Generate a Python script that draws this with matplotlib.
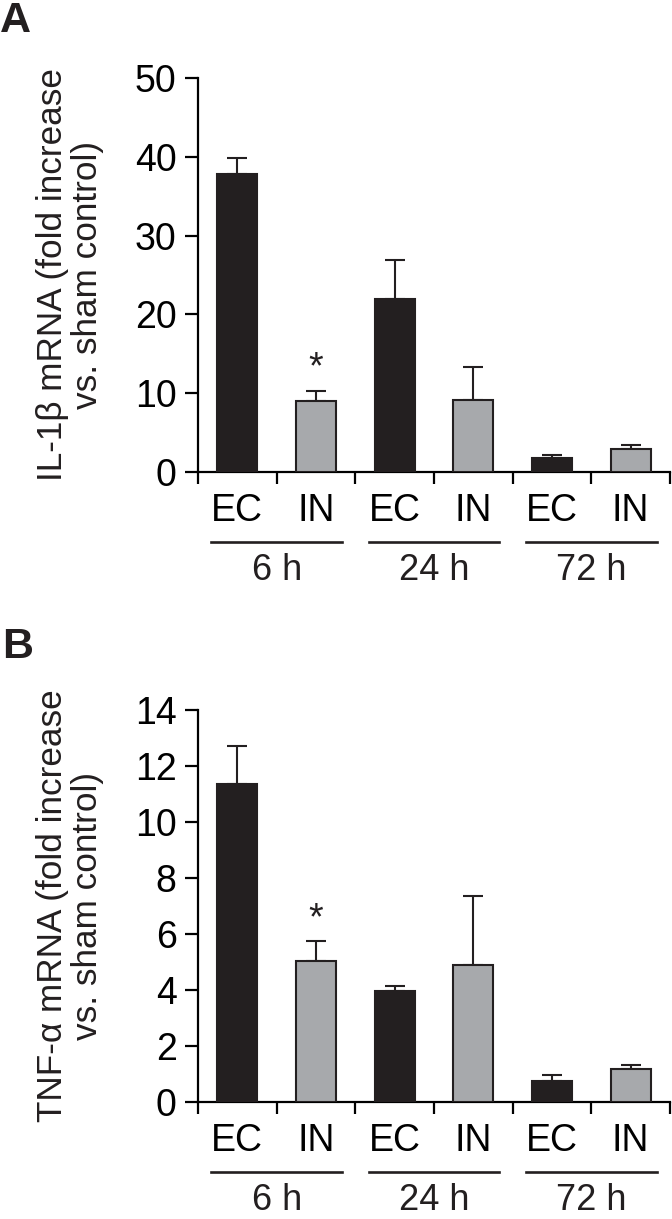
import numpy as np
import matplotlib
matplotlib.use("Agg")
import matplotlib.pyplot as plt
from matplotlib.transforms import ScaledTranslation

plt.rcParams['font.family'] = ['Liberation Sans', 'DejaVu Sans']
narrow = ['Liberation Sans Narrow', 'Liberation Sans', 'DejaVu Sans']

# data
groups = ['6 h', '24 h', '72 h']
conds = ['EC', 'IN', 'EC', 'IN', 'EC', 'IN']

il1b_mean = [37.8, 9.0, 21.9, 9.2, 1.8, 2.9]
il1b_err = [2.1, 1.3, 5.0, 4.1, 0.3, 0.55]

tnf_mean = [11.35, 5.03, 3.97, 4.89, 0.76, 1.18]
tnf_err = [1.38, 0.71, 0.17, 2.45, 0.22, 0.14]

sig_idx = [1]  # IN at 6 h

black = '#231f20'
grey = '#a7a9ac'
colors = [black, grey] * 3

W, H = 672, 1219
fig = plt.figure(figsize=(W / 100, H / 100), dpi=100)


def panel(rect, mean, err, ymax, ystep, ylabel, letter, letter_xy):
    ax = fig.add_axes(rect)
    x = np.arange(len(mean))
    ax.bar(x, mean, width=0.51, color=colors, edgecolor=black, linewidth=1.5, zorder=3)
    ax.errorbar(x, mean, yerr=[np.zeros(len(err)), err], fmt='none',
                ecolor=black, elinewidth=1.5, capsize=7.2, capthick=1.5, zorder=2)

    ax.set_xlim(-0.5, 5.5)
    ax.set_ylim(0, ymax)
    ax.set_yticks(np.arange(0, ymax + 0.1, ystep))
    ax.set_xticks(np.arange(-0.5, 6, 1))
    ax.set_xticklabels([])
    ax.set_xticks(x, minor=True)
    ax.set_xticklabels(conds, minor=True)

    for s in ['top', 'right']:
        ax.spines[s].set_visible(False)
    for s in ['left', 'bottom']:
        ax.spines[s].set_linewidth(1.6)
    ax.tick_params(axis='y', direction='out', length=9.4, width=1.6, labelsize=27, pad=6)
    ax.tick_params(axis='x', which='major', direction='out', length=8.6, width=1.6)
    ax.tick_params(axis='x', which='minor', length=0, labelsize=27, pad=15)
    for t in ax.get_yticklabels() + ax.get_xticklabels(minor=True):
        t.set_family(narrow)

    # group lines and labels under the conditions
    shift = ScaledTranslation(0, -70 / 100, fig.dpi_scale_trans)
    for g, name in enumerate(groups):
        c = 2 * g + 0.5
        ax.plot([c - 0.83, c + 0.83], [0, 0], color=black, lw=1.9,
                transform=ax.get_xaxis_transform() + shift, clip_on=False)
        ax.annotate(name, xy=(c, 0), xycoords=('data', 'axes fraction'),
                    xytext=(0, -98 * 0.72), textcoords='offset points',
                    ha='center', va='center', fontsize=26, color=black,
                    family=narrow)

    for i in sig_idx:
        ax.annotate('*', xy=(i, mean[i] + err[i]), xytext=(0, 3),
                    textcoords='offset points', ha='center', va='bottom',
                    fontsize=27, color=black, family=narrow)

    ax.set_ylabel(ylabel, fontsize=25.3, linespacing=1.05, color=black)
    ax.yaxis.set_label_coords(-0.2, 0.5)
    fig.text(letter_xy[0] / W, 1 - letter_xy[1] / H, letter, fontsize=31,
             fontweight='bold', ha='left', va='top', color=black, family=narrow)
    return ax


panel([198 / W, 1 - 472 / H, 472 / W, 394 / H], il1b_mean, il1b_err, 50, 10,
      'IL-1\u03b2 mRNA (fold increase\nvs. sham control)', 'A', (0, 1))
panel([198 / W, 1 - 1102 / H, 472 / W, 392 / H], tnf_mean, tnf_err, 14, 2,
      'TNF-\u03b1 mRNA (fold increase\nvs. sham control)', 'B', (2, 627))

fig.savefig('out.png', dpi=100)
